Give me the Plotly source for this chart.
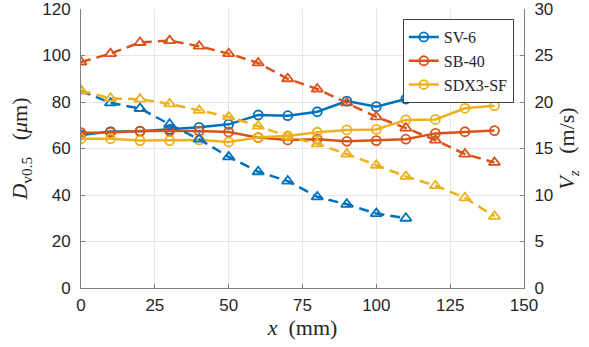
import plotly.graph_objects as go

# x positions (mm)
x_sv6 = [0, 10, 20, 30, 40, 50, 60, 70, 80, 90, 100, 110]
x_sb40 = [0, 10, 20, 30, 40, 50, 60, 70, 80, 90, 100, 110, 120, 130, 140]
x_sdx3 = [0, 10, 20, 30, 40, 50, 60, 70, 80, 90, 100, 110, 120, 130, 140]

# D_v0.5 (um) - left axis, solid lines with circles
d_sv6 = [65.8, 67.3, 67.4, 68.2, 69.1, 70.4, 74.4, 74.1, 75.8, 80.4, 78.0, 81.3]
d_sb40 = [66.8, 66.9, 67.5, 67.5, 67.5, 67.1, 64.7, 63.7, 64.0, 63.1, 63.4, 64.0, 66.5, 67.2, 67.7]
d_sdx3 = [64.2, 64.2, 63.4, 63.4, 63.7, 62.8, 64.8, 65.4, 67.0, 68.0, 68.2, 72.3, 72.5, 77.3, 78.4]

# V_z (m/s) - right axis, dashed lines with triangles
v_sv6 = [21.2, 19.9, 19.3, 17.6, 16.0, 14.1, 12.5, 11.5, 9.8, 9.0, 8.0, 7.5]
v_sb40 = [24.3, 25.2, 26.4, 26.6, 26.0, 25.2, 24.2, 22.5, 21.4, 19.9, 18.4, 17.2, 15.9, 14.4, 13.5]
v_sdx3 = [21.2, 20.4, 20.3, 19.8, 19.1, 18.4, 17.4, 16.3, 15.5, 14.4, 13.2, 12.0, 11.0, 9.7, 7.7]

names = ["SV-6", "SB-40", "SDX3-SF"]
colors = ["#0072BD", "#D95319", "#EDB120"]

x_ticks = [0, 25, 50, 75, 100, 125, 150]
yl_ticks = [0, 20, 40, 60, 80, 100, 120]
yr_ticks = [0, 5, 10, 15, 20, 25, 30]

SERIF = "Liberation Serif"
SANS = "Liberation Sans"

fig = go.Figure()

xs = [x_sv6, x_sb40, x_sdx3]
ds = [d_sv6, d_sb40, d_sdx3]
vs = [v_sv6, v_sb40, v_sdx3]

for name, c, xx, dd in zip(names, colors, xs, ds):
    fig.add_trace(go.Scatter(
        x=xx, y=dd, name=name,
        mode="lines+markers",
        line=dict(color=c, width=2.5),
        marker=dict(symbol="circle-open", size=9, color=c, line=dict(width=1.8)),
        yaxis="y",
    ))

for name, c, xx, vv in zip(names, colors, xs, vs):
    fig.add_trace(go.Scatter(
        x=xx, y=vv, name=name + " Vz", mode="lines+markers", showlegend=False,
        line=dict(color=c, width=2.5, dash="10px,6px"),
        marker=dict(symbol="triangle-up-open", size=10, color=c, line=dict(width=1.8)),
        yaxis="y2",
    ))

tick_font = dict(family=SANS, size=17, color="#262626")
title_font = dict(family=SERIF, size=22, color="#262626")
axis_col = "#808080"
grid_col = "#e6e6e6"

fig.update_layout(
    width=589, height=347,
    margin=dict(l=81, r=65, t=9, b=59, autoexpand=False),
    plot_bgcolor="white", paper_bgcolor="white",
    font=dict(family=SERIF, size=16, color="#262626"),
    showlegend=True,
    legend=dict(
        x=0.977, y=0.964, xanchor="right", yanchor="top",
        bgcolor="white", bordercolor="#404040", borderwidth=1,
        font=dict(family=SERIF, size=16, color="#262626"),
        tracegroupgap=0, itemwidth=30,
    ),
    xaxis=dict(
        range=[0, 150], tickvals=x_ticks, ticktext=[str(t) for t in x_ticks],
        showgrid=True, gridcolor=grid_col, gridwidth=1,
        showline=True, linecolor=axis_col, linewidth=1,
        ticks="inside", ticklen=4, tickcolor=axis_col,
        tickfont=tick_font, zeroline=False, ticklabelstandoff=2,
        ticklabeloverflow="allow", automargin=False,
        title=dict(text="<i>x</i>&nbsp;&nbsp;(mm)", font=title_font, standoff=5),
    ),
    yaxis=dict(
        range=[0, 120], tickvals=yl_ticks, ticktext=[str(t) for t in yl_ticks],
        showgrid=True, gridcolor=grid_col, gridwidth=1,
        showline=True, linecolor=axis_col, linewidth=1,
        ticks="inside", ticklen=4, tickcolor=axis_col,
        tickfont=tick_font, zeroline=False, ticklabelstandoff=6,
        ticklabeloverflow="allow", automargin=False,
        title=dict(text="<i>D</i><sub>v0.5</sub>&nbsp;&nbsp;&nbsp;(<i>μ</i>m)", font=title_font, standoff=8),
    ),
    yaxis2=dict(
        range=[0, 30], tickvals=yr_ticks, ticktext=[str(t) for t in yr_ticks],
        overlaying="y", side="right", anchor="x",
        showgrid=False,
        showline=True, linecolor=axis_col, linewidth=1,
        ticks="inside", ticklen=4, tickcolor=axis_col,
        tickfont=tick_font, zeroline=False, ticklabelstandoff=6,
        ticklabeloverflow="allow", automargin=False,
        title=dict(text="<i>V</i><sub><i>z</i></sub>&nbsp;&nbsp;&nbsp;(m/s)", font=title_font, standoff=6),
    ),
)

fig.write_html("out.html")
